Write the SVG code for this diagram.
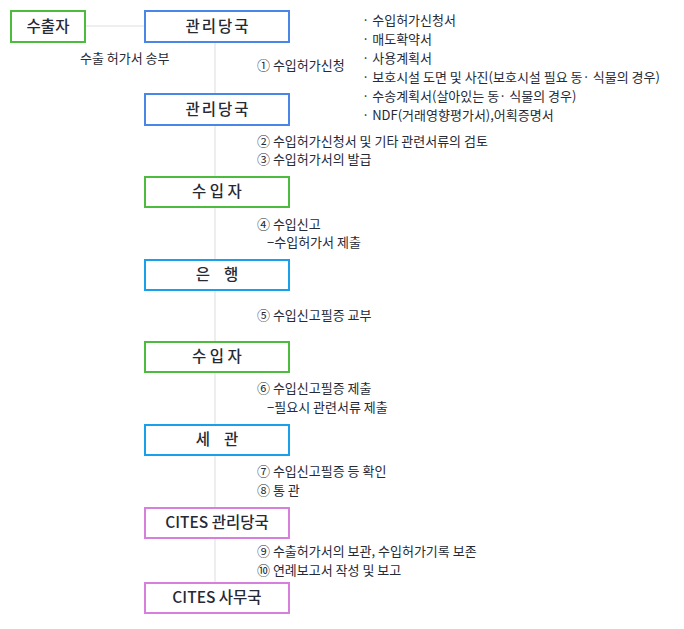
<svg xmlns="http://www.w3.org/2000/svg" width="684" height="629" viewBox="0 0 684 629">
<style>
text{font-family:"Noto Sans CJK KR","Noto Sans",sans-serif;fill:#262a35}
.b{fill:#fff;stroke-width:2}
.t{font-size:15.5px;font-weight:500;text-anchor:middle}
.w{letter-spacing:2px}
.s{font-size:13px}
.g{stroke:#4dbb3d}.bl{stroke:#4a86e8}.c{stroke:#1aa0ea}.p{stroke:#d77fdc}
</style>
<rect width="684" height="629" fill="#fff"/>
<g id="connectors" stroke="#ddd" stroke-width="1" fill="none">
<line x1="85" y1="26" x2="145" y2="26"/>
<line x1="215" y1="42" x2="215" y2="583"/>
</g>
<g id="exporter"><rect class="b g" x="11" y="11" width="74" height="31"/><text class="t" x="48" y="32">수출자</text></g>
<g id="auth1"><rect class="b bl" x="145" y="11" width="144" height="31"/><text class="t w" x="218" y="32">관리당국</text></g>
<g id="auth2"><rect class="b bl" x="145" y="94" width="144" height="31"/><text class="t w" x="218" y="115">관리당국</text></g>
<g id="importer1"><rect class="b g" x="145" y="177" width="144" height="30"/><text class="t" x="217" y="197">수 입 자</text></g>
<g id="bank"><rect class="b c" x="145" y="260" width="144" height="30"/><text class="t" x="217" y="280" xml:space="preserve">은    행</text></g>
<g id="importer2"><rect class="b g" x="145" y="342" width="144" height="30"/><text class="t" x="217" y="362">수 입 자</text></g>
<g id="customs"><rect class="b c" x="145" y="425" width="144" height="30"/><text class="t" x="217" y="445" xml:space="preserve">세    관</text></g>
<g id="cites1"><rect class="b p" x="145" y="508" width="144" height="30"/><text class="t" x="217" y="528">CITES 관리당국</text></g>
<g id="cites2"><rect class="b p" x="145" y="583" width="144" height="30"/><text class="t" x="217" y="603">CITES 사무국</text></g>
<g id="labels">
<text class="s" x="80" y="63">수출 허가서 송부</text>
<text class="s" x="257" y="70">① 수입허가신청</text>
<text class="s" x="362" y="25">· 수입허가신청서</text>
<text class="s" x="362" y="44">· 매도확약서</text>
<text class="s" x="362" y="63">· 사용계획서</text>
<text class="s" x="362" y="82">· 보호시설 도면 및 사진(보호시설 필요 동· 식물의 경우)</text>
<text class="s" x="362" y="101">· 수송계획서(살아있는 동· 식물의 경우)</text>
<text class="s" x="362" y="120">· NDF(거래영향평가서),어획증명서</text>
<text class="s" x="257" y="146">② 수입허가신청서 및 기타 관련서류의 검토</text>
<text class="s" x="257" y="164">③ 수입허가서의 발급</text>
<text class="s" x="257" y="229">④ 수입신고</text>
<text class="s" x="267" y="247">−수입허가서 제출</text>
<text class="s" x="257" y="320">⑤ 수입신고필증 교부</text>
<text class="s" x="257" y="393">⑥ 수입신고필증 제출</text>
<text class="s" x="267" y="412">−필요시 관련서류 제출</text>
<text class="s" x="257" y="476">⑦ 수입신고필증 등 확인</text>
<text class="s" x="257" y="495">⑧ 통  관</text>
<text class="s" x="257" y="556">⑨ 수출허가서의 보관, 수입허가기록 보존</text>
<text class="s" x="257" y="575">⑩ 연례보고서 작성 및 보고</text>
</g>
</svg>
